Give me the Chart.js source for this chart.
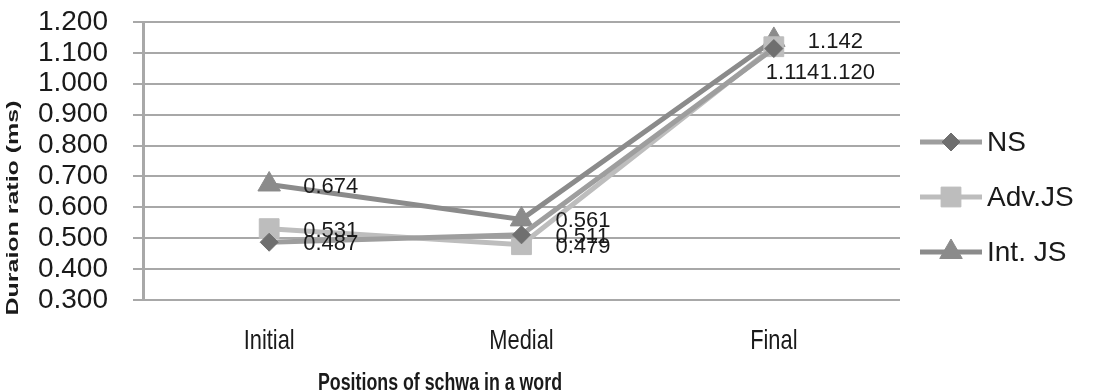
<!DOCTYPE html>
<html>
<head>
<meta charset="utf-8">
<script src="https://cdn.jsdelivr.net/npm/chart.js@4.4.0/dist/chart.umd.min.js"></script>
<style>
  html, body { margin: 0; padding: 0; background: #fff; }
  #wrap { width: 1105px; height: 391px; }
</style>
</head>
<body>
<div id="wrap"><canvas id="schwaChart" width="1105" height="391"></canvas></div>
<script>
// Daten
const positions = ['Initial', 'Medial', 'Final'];
const nsValues = [0.487, 0.511, 1.114];
const advJsValues = [0.531, 0.479, 1.120];
const intJsValues = [0.674, 0.561, 1.142];
const seriesNames = ['NS', 'Adv.JS', 'Int. JS'];
const yTicks = [0.3, 0.4, 0.5, 0.6, 0.7, 0.8, 0.9, 1.0, 1.1, 1.2];

const yTitle = 'Duraion ratio (ms)';
const xTitle = 'Positions of schwa in a word';

const textColor = '#1a1a1a';
const gridColor = '#a8a8a8';

// Datenbeschriftungen rechts neben den Punkten
const valueLabels = {
    id: 'valueLabels',
    afterDatasetsDraw(chart) {
        const ctx = chart.ctx;
        ctx.save();
        ctx.font = '22px "Liberation Sans", Arial, sans-serif';
        ctx.fillStyle = textColor;
        ctx.textAlign = 'left';
        ctx.textBaseline = 'middle';
        chart.data.datasets.forEach((ds, di) => {
            const meta = chart.getDatasetMeta(di);
            meta.data.forEach((pt, i) => {
                let dx = 34, dy = 2;
                // Final-Spalte: Excel hat die Beschriftungen verschoben
                if (i === 2 && di === 0) { dx = -8; dy = 24; }
                if (i === 2 && di === 1) { dx = 46; dy = 26; }
                ctx.fillText(ds.data[i].toFixed(3), pt.x + dx, pt.y + dy);
            });
        });
        ctx.restore();
    }
};

// Kategorien und Achsentitel (schmal/gestreckt wie im Original)
const axisTexts = {
    id: 'axisTexts',
    afterDraw(chart) {
        const ctx = chart.ctx;
        const area = chart.chartArea;
        const xScale = chart.scales.x;

        // Kategorien unter der x-Achse
        ctx.save();
        ctx.fillStyle = textColor;
        ctx.textAlign = 'center';
        ctx.textBaseline = 'alphabetic';
        ctx.font = '28px "Liberation Sans", Arial, sans-serif';
        xScale.ticks.forEach((t, i) => {
            ctx.save();
            ctx.translate(xScale.getPixelForTick(i), area.bottom + 49);
            ctx.scale(0.78, 1);
            ctx.fillText(positions[t.value], 0, 0);
            ctx.restore();
        });
        ctx.restore();

        // y-Titel
        ctx.save();
        ctx.fillStyle = textColor;
        ctx.textAlign = 'center';
        ctx.textBaseline = 'middle';
        ctx.font = 'bold 17px "Liberation Sans", Arial, sans-serif';
        const wy = ctx.measureText(yTitle).width;
        ctx.translate(13, area.bottom - 92);
        ctx.rotate(-Math.PI / 2);
        ctx.scale(215 / wy, 1);
        ctx.fillText(yTitle, 0, 0);
        ctx.restore();

        // x-Titel
        ctx.save();
        ctx.fillStyle = textColor;
        ctx.textAlign = 'center';
        ctx.textBaseline = 'alphabetic';
        ctx.font = 'bold 23px "Liberation Sans", Arial, sans-serif';
        const wx = ctx.measureText(xTitle).width;
        ctx.translate(440, 390);
        ctx.scale(244 / wx, 1);
        ctx.fillText(xTitle, 0, 0);
        ctx.restore();
    }
};

// Legende rechts: Linie + Marker + Text
const sideLegend = {
    id: 'sideLegend',
    afterDraw(chart) {
        const ctx = chart.ctx;
        const x0 = chart.chartArea.right + 20;
        const rows = [142, 197, 252];
        ctx.save();
        chart.data.datasets.forEach((ds, di) => {
            const y = rows[di];
            ctx.strokeStyle = ds.borderColor;
            ctx.lineWidth = ds.borderWidth;
            ctx.beginPath();
            ctx.moveTo(x0, y);
            ctx.lineTo(x0 + 62, y);
            ctx.stroke();
            ctx.fillStyle = ds.pointBackgroundColor;
            ctx.strokeStyle = ds.pointBorderColor;
            ctx.lineWidth = 1;
            Chart.helpers.drawPoint(ctx, {
                pointStyle: ds.pointStyle,
                radius: ds.pointRadius,
                borderWidth: 1,
                rotation: 0
            }, x0 + 31, y);
            ctx.fillStyle = textColor;
            ctx.font = '28px "Liberation Sans", Arial, sans-serif';
            ctx.textAlign = 'left';
            ctx.textBaseline = 'middle';
            ctx.fillText(ds.label, x0 + 67, y + 1);
        });
        ctx.restore();
    }
};

function makeSeries(label, values, line, marker, style, radius) {
    return {
        label: label,
        data: values,
        borderColor: line,
        borderWidth: 5,
        backgroundColor: marker,
        pointBackgroundColor: marker,
        pointBorderColor: marker,
        pointBorderWidth: 1,
        pointStyle: style,
        pointRadius: radius,
        pointHoverRadius: radius,
        tension: 0
    };
}

const schwaChart = new Chart(document.getElementById('schwaChart'), {
    type: 'line',
    data: {
        labels: positions,
        datasets: [
            makeSeries(seriesNames[0], nsValues, '#9e9e9e', '#6f6f6f', 'rectRot', 9),
            makeSeries(seriesNames[1], advJsValues, '#bdbdbd', '#bdbdbd', 'rect', 14),
            makeSeries(seriesNames[2], intJsValues, '#8b8b8b', '#8b8b8b', 'triangle', 13)
        ]
    },
    options: {
        responsive: false,
        animation: false,
        devicePixelRatio: 1,
        layout: { padding: { top: 22, right: 205, left: 0, bottom: 0 } },
        plugins: {
            legend: { display: false },
            tooltip: { enabled: false }
        },
        scales: {
            x: {
                offset: true,
                grid: { display: false, drawTicks: false },
                border: { display: false },
                ticks: { display: false },
                afterFit: (s) => { s.height = 91; }
            },
            y: {
                min: 0.3,
                max: 1.2,
                afterBuildTicks: (s) => { s.ticks = yTicks.map(v => ({ value: v })); },
                grid: { color: gridColor, lineWidth: 2, tickLength: 10, drawTicks: true },
                border: { display: true, color: gridColor, width: 3 },
                ticks: {
                    color: textColor,
                    padding: 25,
                    autoSkip: false,
                    font: { family: '"Liberation Sans", Arial', size: 28 },
                    callback: (v) => Number(v).toFixed(3)
                },
                afterFit: (s) => {
                    s.width = 143;
                    s.paddingTop = 0;
                    s.paddingBottom = 0;
                }
            }
        }
    },
    plugins: [valueLabels, axisTexts, sideLegend]
});
</script>
</body>
</html>
